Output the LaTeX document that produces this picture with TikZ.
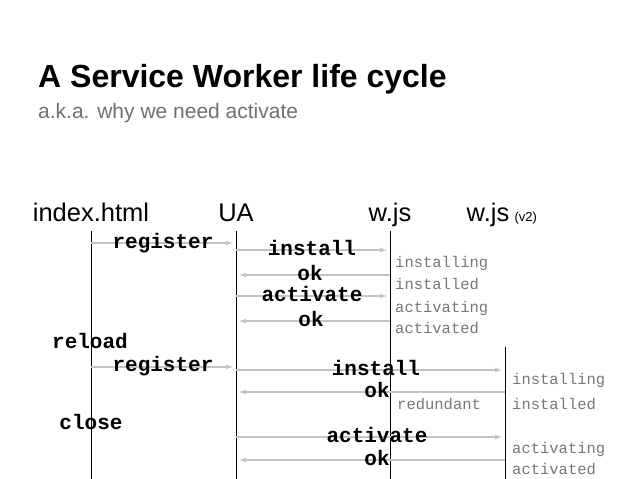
\documentclass[tikz,border=0pt]{standalone}
\usepackage{fontspec}
\setmainfont{Liberation Sans}
\setmonofont{Liberation Mono}
\usetikzlibrary{arrows.meta,positioning}
\definecolor{arrowgray}{HTML}{C4C4C4}
\definecolor{stategray}{HTML}{777777}
\definecolor{subgray}{HTML}{707070}

\begin{document}
\begin{tikzpicture}[x=1pt,y=-1pt,
	msg/.style={draw=arrowgray, line width=1.1pt, -{Latex[length=7pt,width=5pt]}, shorten >=3pt},
	call/.style={anchor=base, inner sep=0pt, font=\ttfamily\bfseries\fontsize{21}{21}\selectfont},
	state/.style={anchor=base west, inner sep=0pt, text=stategray, font=\ttfamily\fontsize{15.5}{16}\selectfont},
	actor/.style={anchor=base, inner sep=0pt, font=\fontsize{25.5}{26}\selectfont},
	life/.style={line width=1pt}]
	\useasboundingbox (0,0) rectangle (638,479);
	% title
	\node[anchor=base west, inner sep=0pt, font=\bfseries\fontsize{32}{32}\selectfont] (title) at (38,87) {A Service Worker life cycle};
	\node[anchor=base west, inner sep=0pt, text=subgray, font=\fontsize{21}{21}\selectfont] (subtitle) at (38,118) {a.k.a. why we need activate};
	% actors
	\node[actor] (index) at (91,221) {index.html};
	\node[actor] (ua) at (236,221) {UA};
	\node[actor] (w) at (390,221) {w.js};
	\node[actor] (v) at (488,221) {w.js};
	\node[anchor=base west, inner sep=0pt, font=\fontsize{13}{13}\selectfont] (vtag) at ([xshift=5pt]v.base east) {(v2)};
	% lifelines
	\foreach \n/\x/\t in {index/91/231, ua/236/231, w/390/231, v/505/347}{
		\coordinate (\n-top) at (\x,\t);
		\coordinate (\n-bot) at (\x,479);
		\draw[life] (\n-top) -- (\n-bot);
	}
	% messages
	\foreach \m/\a/\b/\y in {reg1/index/ua/243, inst1/ua/w/250, ok1/w/ua/275, act1/ua/w/296, ok2/w/ua/321,
		reg2/index/ua/367, inst2/ua/v/370, ok3/v/ua/392, act2/ua/v/437, ok4/v/ua/460}{
		\coordinate (\m-a) at (\a-top |- 0,\y);
		\coordinate (\m-b) at (\b-top |- 0,\y);
		\draw[msg] (\m-a) -- (\m-b);
	}
	\foreach \m/\x/\y/\t in {reg1/163/248/register, inst1/312/255/install, ok1/310/280/ok, act1/312/301/activate, ok2/311/326/ok,
		reg2/163/371/register, inst2/376/375/install, ok3/377/397/ok, act2/377/442/activate, ok4/377/465/ok}
		\node[call] (\m-lbl) at (\x,\y) {\t};
	\node[call] (reload) at (90,348) {reload};
	\node[call] (close) at (91,429) {close};
	% states
	\foreach \s/\x/\y/\t in {s1/395/267/installing, s2/395/289/installed, s3/395/312/activating, s4/395/333/activated,
		s5/397/409/redundant, s6/512/384/installing, s7/512/409/installed, s8/512/453/activating, s9/512/474/activated}
		\node[state] (\s) at (\x,\y) {\t};
\end{tikzpicture}
\end{document}
